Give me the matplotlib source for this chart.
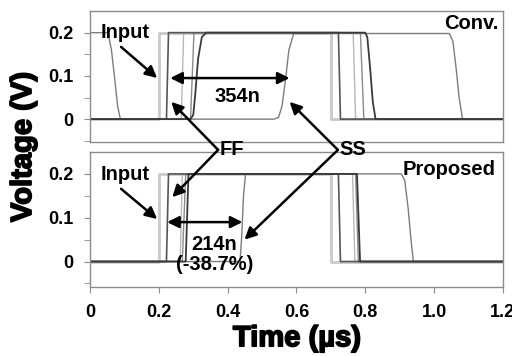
import matplotlib
matplotlib.use("Agg")
import matplotlib.pyplot as plt
import matplotlib.patheffects as pe
from matplotlib.patches import ConnectionPatch

plt.rcParams['font.family'] = ['Liberation Sans', 'DejaVu Sans']
plt.rcParams['font.weight'] = 'bold'

# waveforms (time in us, voltage in V)
input_t = [0, 0.2, 0.2, 0.7, 0.7, 1.2]
input_v = [0, 0, 0.2, 0.2, 0, 0]

# Conv.
conv_ff_t = [0, 0.222, 0.228, 0.722, 0.728, 1.2]
conv_ff_v = [0, 0, 0.2, 0.2, 0, 0]
conv_c2_t = [0, 0.265, 0.272, 0.765, 0.772, 1.2]
conv_c2_v = [0, 0, 0.2, 0.2, 0, 0]
conv_c3_t = [0, 0.292, 0.302, 0.786, 0.796, 1.2]
conv_c3_v = [0, 0, 0.2, 0.2, 0, 0]
conv_c4_t = [0, 0.292, 0.300, 0.306, 0.314, 0.325, 0.338, 0.800, 0.806, 0.814, 0.822, 0.830, 1.2]
conv_c4_v = [0, 0, 0.01, 0.06, 0.14, 0.19, 0.2, 0.2, 0.19, 0.12, 0.04, 0, 0]
conv_ss_t = [0, 0.052, 0.062, 0.072, 0.080, 0.088, 0.535, 0.548, 0.558, 0.568, 0.578, 0.592,
             1.045, 1.055, 1.064, 1.073, 1.083, 1.2]
conv_ss_v = [0.2, 0.2, 0.16, 0.09, 0.03, 0, 0, 0.004, 0.03, 0.09, 0.16, 0.198,
             0.198, 0.18, 0.12, 0.05, 0, 0]

# Proposed
prop_ff_t = [0, 0.222, 0.228, 0.722, 0.728, 1.2]
prop_ff_v = [0, 0, 0.2, 0.2, 0, 0]
prop_c2_t = [0, 0.262, 0.268, 0.763, 0.770, 1.2]
prop_c2_v = [0, 0, 0.2, 0.2, 0, 0]
prop_c3_t = [0, 0.268, 0.278, 0.772, 0.780, 1.2]
prop_c3_v = [0, 0, 0.2, 0.2, 0, 0]
prop_c4_t = [0, 0.278, 0.286, 0.776, 0.785, 1.2]
prop_c4_v = [0, 0, 0.2, 0.2, 0, 0]
prop_ss_t = [0, 0.436, 0.441, 0.446, 0.452, 0.905, 0.915, 0.925, 0.933, 0.940, 1.2]
prop_ss_v = [0, 0, 0.06, 0.15, 0.2, 0.2, 0.185, 0.12, 0.05, 0, 0]

fig = plt.figure(figsize=(5.12, 3.56), dpi=100)
ax1 = fig.add_axes([0.176, 0.601, 0.806, 0.368])
ax2 = fig.add_axes([0.176, 0.194, 0.806, 0.379])

styles = {'in': ('#cacaca', 2.0), 'ff': ('#555555', 1.2), 'c2': ('#b8b8b8', 1.0),
          'c3': ('#8a8a8a', 1.0), 'c4': ('#3a3a3a', 1.3), 'ss': ('#7c7c7c', 1.0)}

def draw(ax, curves):
    for key, t, v in curves:
        c, lw = styles[key]
        ax.plot(t, v, color=c, lw=lw)

draw(ax1, [('in', input_t, input_v), ('c2', conv_c2_t, conv_c2_v), ('c3', conv_c3_t, conv_c3_v),
           ('ss', conv_ss_t, conv_ss_v), ('ff', conv_ff_t, conv_ff_v), ('c4', conv_c4_t, conv_c4_v)])
draw(ax2, [('in', input_t, input_v), ('c2', prop_c2_t, prop_c2_v), ('c3', prop_c3_t, prop_c3_v),
           ('ss', prop_ss_t, prop_ss_v), ('ff', prop_ff_t, prop_ff_v), ('c4', prop_c4_t, prop_c4_v)])

for ax, lo in [(ax1, -0.053), (ax2, -0.058)]:
    ax.set_xlim(0, 1.2)
    ax.set_ylim(lo, 0.25)
    ax.set_facecolor('none')
    for s in ax.spines.values():
        s.set_color('#8c8c8c')
        s.set_linewidth(1.0)
    ax.set_yticks([0, 0.1, 0.2])
    ax.set_yticklabels(['0', '0.1', '0.2'])
    ax.set_yticks([-0.05, 0.05, 0.15], minor=True)
    ax.tick_params(axis='y', which='both', direction='out', length=4, color='#8c8c8c',
                   labelsize=13, pad=8)
    for lab in ax.get_yticklabels():
        lab.set_fontweight('bold')

ax1.set_xticks([])
ax2.set_xticks([0, 0.2, 0.4, 0.6, 0.8, 1.0, 1.2])
ax2.set_xticklabels(['0', '0.2', '0.4', '0.6', '0.8', '1.0', '1.2'])
ax2.tick_params(axis='x', direction='out', length=4, color='#8c8c8c', labelsize=13, pad=8)
for lab in ax2.get_xticklabels():
    lab.set_fontweight('bold')

heavy = [pe.withStroke(linewidth=1.2, foreground='black')]
fig.text(0.045, 0.587, 'Voltage (V)', rotation=90, ha='center', va='center',
         fontsize=21, fontweight='bold', path_effects=heavy)
fig.text(0.58, 0.05, 'Time (\u00b5s)', ha='center', va='center',
         fontsize=21, fontweight='bold', path_effects=heavy)

fs = 14.5
arr = dict(arrowstyle='-|>,head_length=0.5,head_width=0.25', color='black', lw=1.8,
           shrinkA=0, shrinkB=0, mutation_scale=14)
dbl = dict(arrowstyle='<|-|>,head_length=0.5,head_width=0.25', color='black', lw=1.8,
           shrinkA=0, shrinkB=0, mutation_scale=14)

# top panel labels
ax1.text(0.102, 0.2, 'Input', ha='center', va='center', fontsize=fs, fontweight='bold')
ax1.annotate('', xy=(0.195, 0.095), xytext=(0.09, 0.167), arrowprops=arr)
ax1.annotate('', xy=(0.233, 0.095), xytext=(0.58, 0.095), arrowprops=dbl)
ax1.text(0.428, 0.053, '354n', ha='center', va='center', fontsize=fs, fontweight='bold')
ax1.text(1.187, 0.221, 'Conv.', ha='right', va='center', fontsize=fs, fontweight='bold')

# bottom panel labels
ax2.text(0.102, 0.198, 'Input', ha='center', va='center', fontsize=fs, fontweight='bold')
ax2.annotate('', xy=(0.195, 0.097), xytext=(0.09, 0.166), arrowprops=arr)
ax2.annotate('', xy=(0.224, 0.09), xytext=(0.443, 0.09), arrowprops=dbl)
ax2.text(0.362, 0.016, '214n\n(-38.7%)', ha='center', va='center', fontsize=fs,
         fontweight='bold', linespacing=1.1)
ax2.text(1.18, 0.211, 'Proposed', ha='right', va='center', fontsize=fs, fontweight='bold')

# FF / SS callouts spanning both panels
ff_v = (0.426, 0.579)
ss_v = (0.660, 0.579)
fig.text(0.428, 0.581, 'FF', ha='left', va='center', fontsize=fs, fontweight='bold')
fig.text(0.662, 0.581, 'SS', ha='left', va='center', fontsize=fs, fontweight='bold')
targets = [(ff_v, ax1, (0.236, 0.04)), (ff_v, ax2, (0.239, 0.147)),
           (ss_v, ax1, (0.58, 0.04)), (ss_v, ax2, (0.449, 0.05))]
for vert, ax, xy in targets:
    cp = ConnectionPatch(xyA=vert, coordsA='figure fraction', xyB=xy, coordsB=ax.transData,
                         **arr)
    fig.add_artist(cp)

fig.savefig('out.png', dpi=100)
